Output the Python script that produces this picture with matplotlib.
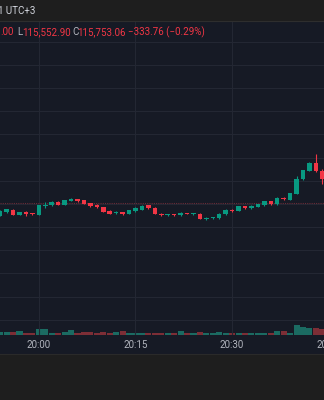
import numpy as np
import pandas as pd
import matplotlib.pyplot as plt
from matplotlib.patches import Rectangle

# BTCUSDT 1m candles, 19:54 -> 20:44
opens = [115674.6, 115682.5, 115687.5, 115676.1, 115682.5, 115679.5, 115676.1, 115696.1, 115696.8, 115704.7,
         115698.3, 115706.3, 115709.7, 115707.5, 115701.9, 115697.6, 115693.3, 115685.3, 115679.5, 115681.7,
         115678.2, 115684.7, 115686.9, 115696.8, 115691.8, 115678.9, 115675.2, 115676.7, 115676.1, 115680.4,
         115677.4, 115678.9, 115666.6, 115668.8, 115668.8, 115677.4, 115686.9, 115684.7, 115695.5, 115690.3,
         115694.0, 115696.8, 115705.4, 115698.9, 115713.4, 115709.1, 115722.0, 115752.8, 115770.9, 115788.8,
         115771.6]
highs = [115686.4, 115689.7, 115688.2, 115683.2, 115683.8, 115680.0, 115698.0, 115704.7, 115705.4, 115705.4,
         115709.1, 115712.0, 115710.4, 115708.2, 115702.6, 115700.4, 115694.0, 115686.0, 115683.8, 115682.5,
         115686.9, 115692.5, 115696.8, 115697.6, 115692.5, 115679.5, 115677.4, 115677.4, 115683.2, 115681.0,
         115679.5, 115679.5, 115671.8, 115671.2, 115679.5, 115689.7, 115688.2, 115695.5, 115696.1, 115697.6,
         115700.4, 115707.0, 115706.3, 115714.0, 115714.0, 115724.2, 115760.8, 115773.8, 115789.5, 115808.2,
         115775.9]
lows = [115673.5, 115681.0, 115676.1, 115675.2, 115674.0, 115677.0, 115675.5, 115690.3, 115694.6, 115697.0,
        115697.6, 115705.6, 115704.9, 115699.1, 115693.9, 115691.8, 115682.5, 115677.4, 115678.2, 115676.7,
        115677.4, 115683.2, 115686.0, 115689.7, 115677.4, 115674.6, 115674.6, 115674.6, 115673.1, 115678.2,
        115676.7, 115666.6, 115664.4, 115668.0, 115668.0, 115676.7, 115681.7, 115684.0, 115689.7, 115689.7,
        115693.3, 115696.1, 115698.3, 115698.3, 115709.1, 115708.4, 115721.3, 115752.1, 115770.2, 115769.3,
        115743.5]
closes = [115685.3, 115689.0, 115676.7, 115682.5, 115677.4, 115677.4, 115697.6, 115697.6, 115704.7, 115697.6,
          115708.4, 115711.2, 115705.4, 115699.8, 115694.6, 115692.5, 115683.2, 115678.2, 115681.7, 115677.4,
          115686.0, 115690.3, 115696.1, 115690.3, 115678.2, 115675.2, 115676.7, 115675.2, 115681.0, 115678.9,
          115678.9, 115667.5, 115670.3, 115670.9, 115678.9, 115686.0, 115683.8, 115694.6, 115690.3, 115695.5,
          115698.9, 115706.3, 115698.9, 115713.4, 115709.7, 115723.5, 115754.3, 115773.1, 115788.8, 115770.0,
          115753.06]
volumes = [2.7, 2.3, 3.0, 4.0, 2.0, 1.7, 6.0, 6.0, 2.0, 2.0,
           2.3, 5.0, 1.7, 2.7, 2.3, 2.0, 3.0, 2.0, 2.7, 3.3,
           2.0, 2.0, 2.0, 1.7, 2.0, 2.0, 1.7, 1.7, 3.3, 2.0,
           1.7, 2.3, 1.7, 1.7, 2.7, 1.7, 2.0, 2.0, 1.7, 2.0,
           1.7, 1.7, 2.0, 3.3, 3.3, 2.0, 9.3, 7.7, 7.0, 6.3,
           5.3]

ref_line = 115701.0          # dotted reference price line
day_low = 115552.90
change = -333.76
change_pct = -0.29
tick_labels = ['20:00', '20:15', '20:30', '20:45']

times = pd.date_range('2025-08-01 19:54', periods=len(opens), freq='min')

BG = '#161a25'
BAR = '#1e1e1e'
UP = '#089981'
DN = '#f23645'
UP_VOL = '#1b6b62'
DN_VOL = '#7d2e36'
GRID = '#232733'

W, H = 324, 400
fig = plt.figure(figsize=(W / 100, H / 100), dpi=100, facecolor=BAR)

def fy(py):
    return 1 - py / H

# chart pane + time axis strip
fig.patches.append(Rectangle((0, fy(353.5)), 1, fy(21) - fy(353.5), transform=fig.transFigure,
                             facecolor=BG, edgecolor='none', zorder=0))
fig.add_artist(plt.Line2D([0, 1], [fy(20.5), fy(20.5)], color='#2e2e2e', lw=0.8))
fig.add_artist(plt.Line2D([0, 1], [fy(353.8), fy(353.8)], color='#2a2a2a', lw=0.8))

ax = fig.add_axes([0, fy(334.5), 1, fy(21) - fy(334.5)])
ax.set_facecolor(BG)
for s in ax.spines.values():
    s.set_visible(False)

x = np.arange(len(opens))
o = np.array(opens); c = np.array(closes)
up = c >= o
colors = np.where(up, UP, DN)

# volume on its own scale at the bottom
axv = ax.twinx()
axv.bar(x, volumes, width=0.94, color=np.where(up, UP_VOL, DN_VOL), linewidth=0, zorder=1)
axv.set_ylim(0, 314)
axv.axis('off')

ax.set_zorder(axv.get_zorder() + 1)
ax.patch.set_visible(False)
axv.set_zorder(0)

ax.vlines(x, lows, highs, colors=colors, linewidth=0.8, zorder=3)
body = np.maximum(np.abs(c - o), 2.2)
ax.bar(x, body, bottom=np.minimum(o, c), width=0.7, color=colors, linewidth=0, zorder=4)

ax.axhline(ref_line, color='#6a2c37', lw=0.8, linestyle=(0, (1, 1)), zorder=2)

ax.set_ylim(115418.1, 116094.8)
ax.set_xlim(-0.03, 50.26)

t0 = times[0]
tick_pos = [(pd.Timestamp(f'2025-08-01 {t}') - t0).total_seconds() / 60 for t in tick_labels]
ax.set_yticks(np.arange(115450, 116100, 50))
ax.set_xticks(tick_pos[:3])
ax.grid(True, color=GRID, lw=0.8)
ax.tick_params(length=0, labelleft=False, labelbottom=False)
ax.set_axisbelow(True)
fig.patches[0].set_zorder(-1)
fig.set_facecolor(BAR)

# time labels under the pane
for pos, lab in zip(tick_pos, tick_labels):
    px = -0.2 + pos * 6.45
    fig.text(px / W, fy(344.5), lab, color='#b2b5be', fontsize=7, family='Roboto',
             ha='center', va='center')

# header rows
fig.text(-2 / W, fy(11.5), '1 UTC+3', color='#d1d4dc', fontsize=7, family='Roboto', va='center')

hdr_y = fy(32)
red_txt = '#f23645'
fig.text(0 / W, hdr_y, '.00', color=red_txt, fontsize=7, family='Roboto', va='center')
fig.text(17.5 / W, hdr_y, 'L', color='#b2b5be', fontsize=7, family='Roboto', va='center')
fig.text(22.5 / W, hdr_y, f'{day_low:,.2f}', color=red_txt, fontsize=7, family='Roboto', va='center')
fig.text(72 / W, hdr_y, 'C', color='#b2b5be', fontsize=7, family='Roboto', va='center')
fig.text(77 / W, hdr_y, f'{closes[-1]:,.2f}', color=red_txt, fontsize=7, family='Roboto', va='center')
fig.text(128 / W, hdr_y, f'\u2212{abs(change):.2f} (\u2212{abs(change_pct):.2f}%)', color=red_txt,
         fontsize=7, family='Roboto', va='center')

fig.savefig('out.png', dpi=100, facecolor=BAR)
